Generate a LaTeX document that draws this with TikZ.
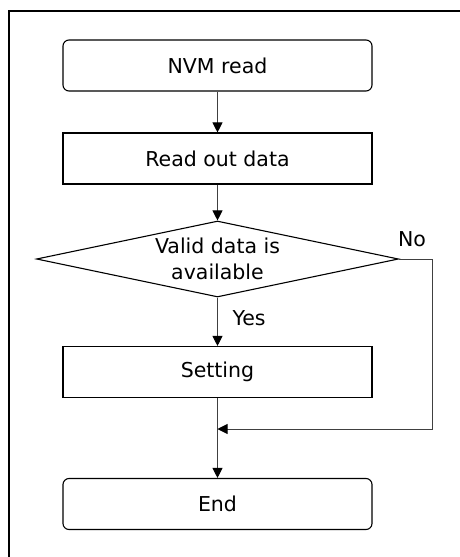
\documentclass[tikz,border=0pt]{standalone}
\usepackage{fontspec}
\setmainfont{DejaVu Sans}
\usetikzlibrary{shapes.geometric,arrows.meta}

\begin{document}
\begin{tikzpicture}[x=1pt,y=-1pt,
		every node/.style={font=\fontsize{20.5}{26}\selectfont},
		proc/.style={draw,line width=1.1pt,minimum width=309pt,minimum height=51pt,inner sep=0pt},
		term/.style={proc,rounded corners=6pt},
		decision/.style={draw,diamond,line width=1.1pt,minimum width=362pt,minimum height=76pt,inner sep=0pt},
		flow/.style={draw=black!75,line width=0.9pt,-{Triangle[length=10pt,width=10pt,color=black]}}]
		\useasboundingbox (0,0) rectangle (460,557);
		\draw[line width=2.2pt] (460,11) -| (9,557);
		
		\node[term] (nvm) at (217.5,65.5) {NVM read};
		\node[proc] (readout) at (217.5,158.5) {Read out data};
		\node[decision, label={[align=center]center:{Valid data is\\available}}] (valid) at (217.5,259) {};
		\node[proc] (setting) at (217.5,372) {Setting};
		\node[term] (end) at (217.5,504) {End};
		\node[anchor=west] (yes) at (229,318) {Yes};
		\node (no) at (412,239) {No};
		\coordinate (merge) at (217.5,429);
		
		\draw[flow] (nvm) -- (readout);
		\draw[flow] (readout) -- (valid);
		\draw[flow] (valid) -- (setting);
		\draw[flow] (setting) -- (end);
		\draw[flow] (valid.east) -- ++(33,0) |- (merge);
	\end{tikzpicture}
\end{document}
